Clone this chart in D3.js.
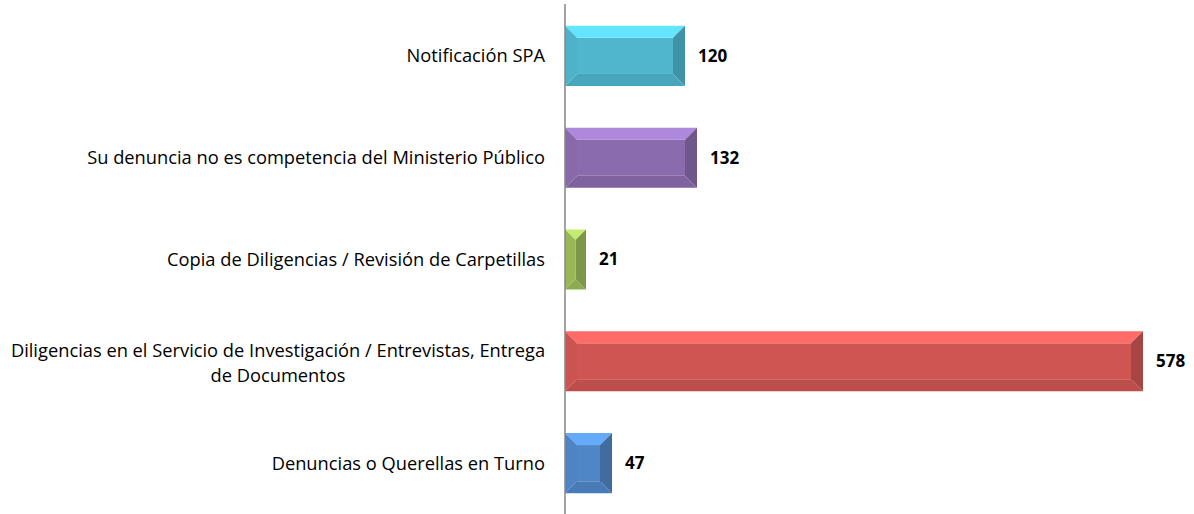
<!DOCTYPE html>
<html>
<head>
<meta charset="utf-8">
<script src="https://cdn.jsdelivr.net/npm/d3@7"></script>
<style>
  body { margin: 0; background: #fff; }
  svg { display: block; }
</style>
</head>
<body>
<div id="chart"></div>
<script>
// categories top to bottom
const categories = [
    "Notificación SPA",
    "Su denuncia no es competencia del Ministerio Público",
    "Copia de Diligencias / Revisión de Carpetillas",
    "Diligencias en el Servicio de Investigación / Entrevistas, Entrega|de Documentos",
    "Denuncias o Querellas en Turno"
];
const values = [120, 132, 21, 578, 47];
const barColors = ["#4fb6cd", "#8a6cae", "#9bbb59", "#cf5552", "#4f86c6"];

const width = 1194, height = 514;
const margin = {top: 5, right: 49, bottom: 0, left: 565};
const font = "'Open Sans', Lato, sans-serif";

const svg = d3.select("#chart").append("svg")
    .attr("width", width)
    .attr("height", height);

const g = svg.append("g")
    .attr("transform", `translate(${margin.left},${margin.top})`);

const innerH = height - margin.top - margin.bottom;

const x = d3.scaleLinear().domain([0, 580]).range([0, 580]);
const y = d3.scaleBand().domain(categories).range([0, innerH]).paddingInner(0.41).paddingOuter(0.205);

// bevelled bars
categories.forEach((c, i) => {
    const x0 = x(0), x1 = x(values[i]);
    const y0 = y(c), y1 = y(c) + y.bandwidth();
    const b = Math.min(12, (x1 - x0) / 2, (y1 - y0) / 2);
    const base = d3.color(barColors[i]);
    const bar = g.append("g").attr("class", "bar");

    const faces = [
        // top
        {pts: [[x0, y0], [x1, y0], [x1 - b, y0 + b], [x0 + b, y0 + b]], fill: base.brighter(0.65)},
        // right
        {pts: [[x1, y0], [x1, y1], [x1 - b, y1 - b], [x1 - b, y0 + b]], fill: base.darker(0.6)},
        // bottom
        {pts: [[x0, y1], [x1, y1], [x1 - b, y1 - b], [x0 + b, y1 - b]], fill: base.darker(0.25)},
        // left
        {pts: [[x0, y0], [x0 + b, y0 + b], [x0 + b, y1 - b], [x0, y1]], fill: base.darker(0.05)}
    ];

    bar.append("rect")
        .attr("x", x0 + b).attr("y", y0 + b)
        .attr("width", Math.max(0, x1 - x0 - 2 * b))
        .attr("height", y1 - y0 - 2 * b)
        .attr("fill", base);

    faces.forEach(f => {
        bar.append("polygon")
            .attr("points", f.pts.map(p => p.join(",")).join(" "))
            .attr("fill", f.fill);
    });

    // value label
    g.append("text")
        .attr("x", x1 + 13)
        .attr("y", y0 + y.bandwidth() / 2)
        .attr("dy", "0.35em")
        .style("font-family", font)
        .style("font-size", "17px")
        .style("font-weight", "bold")
        .style("fill", "#000")
        .text(values[i]);
});

// category labels
categories.forEach(c => {
    const lines = c.split("|");
    const multi = lines.length > 1;
    const cy = y(c) + y.bandwidth() / 2 + (multi ? 2 : 0);
    const lh = 25;
    const t = g.append("text")
        .attr("text-anchor", multi ? "middle" : "end")
        .style("font-family", font)
        .style("font-size", "18.3px")
        .style("fill", "#000");
    lines.forEach((l, k) => {
        t.append("tspan")
            .attr("x", multi ? -287 : -20)
            .attr("y", cy + (k - (lines.length - 1) / 2) * lh)
            .attr("dy", "0.35em")
            .text(l);
    });
});

// vertical axis line
g.append("line")
    .attr("x1", 0).attr("x2", 0)
    .attr("y1", -1).attr("y2", innerH)
    .attr("stroke", "#868686")
    .attr("stroke-width", 1.5);
</script>
</body>
</html>
